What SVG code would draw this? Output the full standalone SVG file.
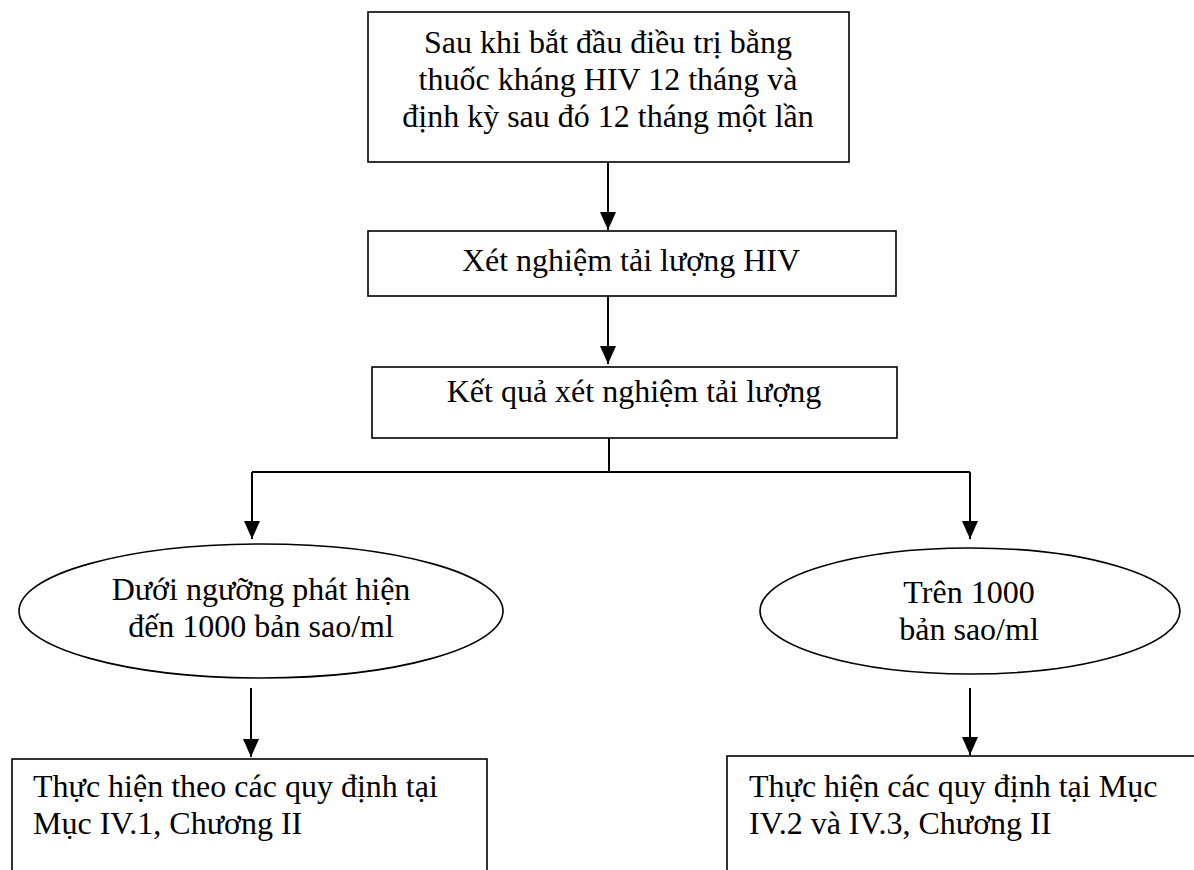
<svg xmlns="http://www.w3.org/2000/svg" width="1194" height="870" viewBox="0 0 1194 870">
  <style>
    .box { fill: #ffffff; stroke: #000000; stroke-width: 1.6; }
    .conn { fill: none; stroke: #000000; stroke-width: 2; }
    .t { font-family: "Liberation Serif", "Times New Roman", serif; font-size: 32px; fill: #000000; }
    .c { text-anchor: middle; }
  </style>
  <defs>
    <marker id="arrow" markerUnits="userSpaceOnUse" markerWidth="18" markerHeight="16" viewBox="0 0 18 16" refX="18" refY="8" orient="auto">
      <path d="M0,0 L18,8 L0,16 z" fill="#000000"/>
    </marker>
  </defs>
  <rect width="1194" height="870" fill="#ffffff"/>

  <g id="connectors">
    <line class="conn" x1="608" y1="162" x2="608" y2="230" marker-end="url(#arrow)"/>
    <line class="conn" x1="608" y1="296" x2="608" y2="364" marker-end="url(#arrow)"/>
    <polyline class="conn" points="609,438 609,472"/>
    <polyline class="conn" points="252,472 970,472"/>
    <line class="conn" x1="252" y1="472" x2="252" y2="539" marker-end="url(#arrow)"/>
    <line class="conn" x1="970" y1="472" x2="970" y2="539" marker-end="url(#arrow)"/>
    <line class="conn" x1="251" y1="688" x2="251" y2="757" marker-end="url(#arrow)"/>
    <line class="conn" x1="970" y1="688" x2="970" y2="755" marker-end="url(#arrow)"/>
  </g>

  <g id="start">
    <rect class="box" x="368" y="12" width="481" height="150"/>
    <text class="t c" x="608" y="53">Sau khi bắt đầu điều trị bằng</text>
    <text class="t c" x="608" y="90">thuốc kháng HIV 12 tháng và</text>
    <text class="t c" x="608" y="127">định kỳ sau đó 12 tháng một lần</text>
  </g>

  <g id="test">
    <rect class="box" x="368" y="231" width="528" height="65"/>
    <text class="t c" x="631" y="271">Xét nghiệm tải lượng HIV</text>
  </g>

  <g id="result">
    <rect class="box" x="372" y="367" width="525" height="71"/>
    <text class="t c" x="634" y="402">Kết quả xét nghiệm tải lượng</text>
  </g>

  <g id="low">
    <ellipse class="box" cx="261" cy="611" rx="242" ry="67"/>
    <text class="t c" x="261" y="600">Dưới ngưỡng phát hiện</text>
    <text class="t c" x="261" y="637">đến 1000 bản sao/ml</text>
  </g>

  <g id="high">
    <ellipse class="box" cx="970" cy="611" rx="210" ry="63"/>
    <text class="t c" x="969" y="603">Trên 1000</text>
    <text class="t c" x="969" y="640">bản sao/ml</text>
  </g>

  <g id="action-low">
    <rect class="box" x="12" y="759" width="475" height="130"/>
    <text class="t" x="33" y="797">Thực hiện theo các quy định tại</text>
    <text class="t" x="33" y="834">Mục IV.1, Chương II</text>
  </g>

  <g id="action-high">
    <rect class="box" x="727" y="756" width="480" height="130"/>
    <text class="t" x="749" y="797">Thực hiện các quy định tại Mục</text>
    <text class="t" x="749" y="834">IV.2 và IV.3, Chương II</text>
  </g>
</svg>
